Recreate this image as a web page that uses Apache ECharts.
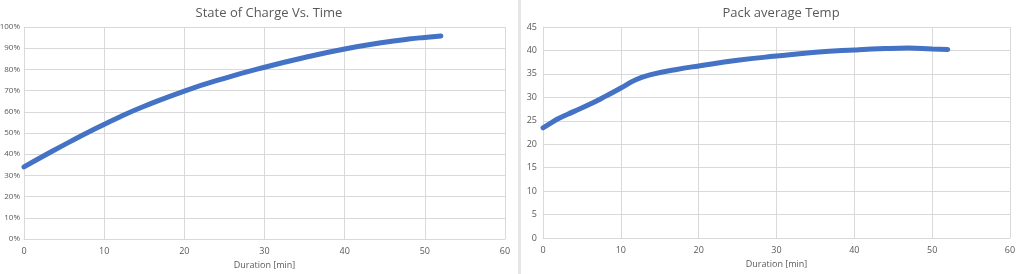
<!DOCTYPE html>
<html>
<head>
<meta charset="utf-8">
<script src="https://cdn.jsdelivr.net/npm/echarts@6/dist/echarts.min.js"></script>
<style>
html,body{margin:0;padding:0;background:#fff;}
#c{width:1024px;height:274px;}
</style>
</head>
<body>
<div id="c"></div>
<script>
const socTime = [0, 3, 6, 9, 12, 15, 20, 25, 30, 35, 40, 45, 48, 50, 52];
const socValues = [34, 40.3, 46.4, 52.2, 57.7, 62.6, 69.8, 75.8, 81, 85.6, 89.6, 92.8, 94.3, 95.1, 95.8];
const tempTime = [0, 1, 2, 4, 6, 8, 10, 12, 14, 17, 20, 25, 30, 35, 40, 44, 47, 50, 52];
const tempValues = [23.5, 24.5, 25.5, 27, 28.5, 30.2, 32, 33.8, 34.9, 35.9, 36.7, 37.9, 38.8, 39.6, 40.1, 40.4, 40.5, 40.3, 40.2];
const socTitle = "State of Charge Vs. Time";
const tempTitle = "Pack average Temp";
const xName = "Duration [min]";

const font = "'Open Sans', 'Liberation Sans', sans-serif";
const gray = '#595959';
const gridColor = '#d9d9d9';
const blue = '#4472C4';

function xAxis(gi) {
  return {
    type: 'value', gridIndex: gi, min: 0, max: 60, interval: 10,
    name: xName, nameLocation: 'middle', nameGap: 20,
    nameTextStyle: {color: gray, fontSize: 9, fontFamily: font},
    axisLine: {show: true, lineStyle: {color: gridColor, width: 1}},
    axisTick: {show: false},
    axisLabel: {color: gray, fontSize: 9, fontFamily: font, margin: 8},
    splitLine: {show: true, lineStyle: {color: gridColor, width: 1}}
  };
}
function yAxis(gi, max, interval, fmt, size, margin) {
  return {
    type: 'value', gridIndex: gi, min: 0, max: max, interval: interval,
    axisLine: {show: true, lineStyle: {color: gridColor, width: 1}},
    axisTick: {show: false},
    axisLabel: {color: gray, fontSize: size, fontFamily: font, margin: margin, formatter: fmt},
    splitLine: {show: true, lineStyle: {color: gridColor, width: 1}}
  };
}

const chart = echarts.init(document.getElementById('c'), null, {renderer: 'canvas'});
chart.setOption({
  animation: false,
  backgroundColor: '#fff',
  title: [
    {text: socTitle, left: 264, top: 2, textAlign: 'center',
     textStyle: {color: gray, fontSize: 13, fontWeight: 'normal', fontFamily: font}},
    {text: tempTitle, left: 776, top: 2, textAlign: 'center',
     textStyle: {color: gray, fontSize: 13, fontWeight: 'normal', fontFamily: font}}
  ],
  graphic: [
    {type: 'rect', left: 518, top: 0, shape: {width: 3, height: 274}, style: {fill: '#e6e6e6'}, silent: true}
  ],
  grid: [
    {left: 24, right: 519, top: 27, bottom: 35, outerBoundsMode: 'none', containLabel: false},
    {left: 543, right: 14, top: 27, bottom: 36, outerBoundsMode: 'none', containLabel: false}
  ],
  xAxis: [xAxis(0), xAxis(1)],
  yAxis: [
    yAxis(0, 100, 10, v => v + '%', 8, 4),
    yAxis(1, 45, 5, v => v, 9, 6)
  ],
  series: [
    {type: 'line', xAxisIndex: 0, yAxisIndex: 0, data: socTime.map((t, i) => [t, socValues[i]]),
     smooth: true, showSymbol: false, lineStyle: {color: blue, width: 5, cap: 'round'}},
    {type: 'line', xAxisIndex: 1, yAxisIndex: 1, data: tempTime.map((t, i) => [t, tempValues[i]]),
     smooth: true, showSymbol: false, lineStyle: {color: blue, width: 5, cap: 'round'}}
  ]
});
</script>
</body>
</html>
